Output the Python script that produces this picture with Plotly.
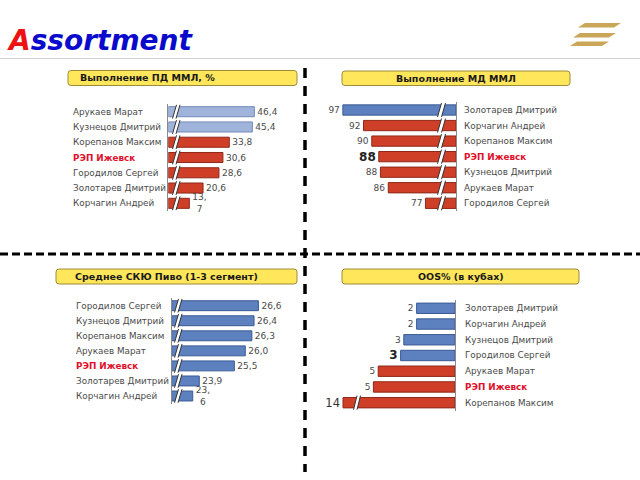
import plotly.graph_objects as go

W, H = 640, 480

# ---------------- data ----------------
p1_title = "Выполнение ПД ММЛ, %"
p1_names = ["Арукаев Марат", "Кузнецов Дмитрий", "Корепанов Максим", "РЭП Ижевск",
            "Городилов Сергей", "Золотарев Дмитрий", "Корчагин Андрей"]
p1_values = [46.4, 45.4, 33.8, 30.6, 28.6, 20.6, 13.7]

p2_title = "Выполнение МД ММЛ"
p2_names = ["Золотарев Дмитрий", "Корчагин Андрей", "Корепанов Максим", "РЭП Ижевск",
            "Кузнецов Дмитрий", "Арукаев Марат", "Городилов Сергей"]
p2_values = [97, 92, 90, 88.3, 87.9, 86, 77]

p3_title = "Среднее СКЮ Пиво (1-3 сегмент)"
p3_names = ["Городилов Сергей", "Кузнецов Дмитрий", "Корепанов Максим", "Арукаев Марат",
            "РЭП Ижевск", "Золотарев Дмитрий", "Корчагин Андрей"]
p3_values = [26.6, 26.4, 26.3, 26.0, 25.5, 23.9, 23.6]

p4_title = "OOS% (в кубах)"
p4_names = ["Золотарев Дмитрий", "Корчагин Андрей", "Кузнецов Дмитрий", "Городилов Сергей",
            "Арукаев Марат", "РЭП Ижевск", "Корепанов Максим"]
p4_values = [2.4, 2.4, 3.2, 3.4, 4.8, 5.1, 14]

REGION = "РЭП Ижевск"

# ---------------- style ----------------
RED, RED_L = "#CF3F28", "#8E2818"
BLUE, BLUE_L = "#5D80BF", "#3B5B95"
LBLUE, LBLUE_L = "#A0B4DB", "#7489B5"
FONT = "DejaVu Sans"
NAME_C = "#4A4A4A"
VAL_C = "#4A4A4A"
REG_C = "#E0102A"
NAME_SIZE = 8.8
VAL_SIZE = 9


def px(x):
    return x / W


def py(y):
    return 1 - y / H


def fmt1(v):
    return f"{v:.1f}".replace(".", ",")


fig = go.Figure()
shapes = []
annotations = []


def panel(k, names, values, base, px_per_unit, axis_px, far_px, row0, step,
          colors, lines, texts, tsizes, tcolors, label_px, brk=None, cap=None):
    n = len(values)
    rev = far_px < axis_px
    span = abs(far_px - axis_px) / px_per_unit
    xname = "x" if k == 1 else f"x{k}"
    yname = "y" if k == 1 else f"y{k}"
    xl = "xaxis" if k == 1 else f"xaxis{k}"
    yl = "yaxis" if k == 1 else f"yaxis{k}"
    disp = [min(v, cap) if cap else v for v in values]
    fig.add_trace(go.Bar(
        y=list(range(n)), x=[d - base for d in disp], base=base, orientation="h",
        xaxis=xname, yaxis=yname, width=0.66,
        marker=dict(color=colors, line=dict(color=lines, width=1)),
        text=texts, textposition="outside", constraintext="none",
        textfont=dict(family=FONT, size=tsizes, color=tcolors),
        cliponaxis=False, hoverinfo="skip", showlegend=False))
    top = row0 - step / 2
    bot = row0 + step * (n - 1) + step / 2
    if rev:
        dom = [px(far_px), px(axis_px)]
        rng = [base + span, base]
    else:
        dom = [px(axis_px), px(far_px)]
        rng = [base, base + span]
    fig.update_layout(**{
        xl: dict(domain=dom, range=rng, anchor=yname, visible=False, fixedrange=True),
        yl: dict(domain=[py(bot), py(top)], range=[n - 0.5, -0.5], anchor=xname,
                 showline=True, linecolor="#8A8A8A", linewidth=1,
                 side="right" if rev else "left", showticklabels=False,
                 showgrid=False, zeroline=False, ticks="", fixedrange=True),
    })
    for i, nm in enumerate(names):
        reg = nm == REGION
        annotations.append(dict(
            xref="paper", yref=yname, x=px(label_px), y=i, xanchor="left",
            yanchor="middle", showarrow=False,
            text=f"<b>{nm}</b>" if reg else nm,
            font=dict(family=FONT, size=NAME_SIZE, color=REG_C if reg else NAME_C)))
    if brk:
        xb, slant, gap, rows = brk
        for i in rows:
            yb, yt = i + 0.45, i - 0.45
            path = (f"M {px(xb)},{yb} L {px(xb + slant)},{yt} "
                    f"L {px(xb + slant + gap)},{yt} L {px(xb + gap)},{yb} Z")
            shapes.append(dict(type="path", xref="paper", yref=yname, path=path,
                               fillcolor="white", line=dict(width=0), layer="above"))
            for dx in (0, gap):
                shapes.append(dict(type="line", xref="paper", yref=yname,
                                   x0=px(xb + dx), y0=yb, x1=px(xb + dx + slant), y1=yt,
                                   line=dict(color="#333333", width=1), layer="above"))


# panel 1
c1 = [LBLUE if i < 2 else RED for i in range(len(p1_values))]
l1 = [LBLUE_L if i < 2 else RED_L for i in range(len(p1_values))]
t1 = [fmt1(v) for v in p1_values]
t1[-1] = t1[-1].replace(",", ",<br>")
panel(1, p1_names, p1_values, 3.12, 1.988, 168.3, 300, 111.7, 15.27,
      c1, l1, t1, VAL_SIZE, VAL_C, 71, brk=(172.5, 4, 3.5, range(len(p1_values))))

# panel 2
c2 = [BLUE if i < 1 else RED for i in range(len(p2_values))]
l2 = [BLUE_L if i < 1 else RED_L for i in range(len(p2_values))]
t2 = [f"<b>{v:.0f}</b>" if nm == REGION else f"{v:.0f}" for v, nm in zip(p2_values, p2_names)]
s2 = [12 if nm == REGION else VAL_SIZE for nm in p2_names]
tc2 = ["#222222" if nm == REGION else VAL_C for nm in p2_names]
panel(2, p2_names, p2_values, 69.6, 4.13, 456, 326, 110, 15.55,
      c2, l2, t2, s2, tc2, 462, brk=(437.5, 4, 4, range(len(p2_values))))

# panel 3
c3 = [BLUE] * len(p3_values)
l3 = [BLUE_L] * len(p3_values)
t3 = [fmt1(v) for v in p3_values]
t3[-1] = t3[-1].replace(",", ",<br>")
panel(3, p3_names, p3_values, 22.64, 21.9, 171.7, 300, 305.7, 15.05,
      c3, l3, t3, VAL_SIZE, VAL_C, 74, brk=(174.5, 4, 3.5, range(len(p3_values))))

# panel 4
c4 = [BLUE if i < 4 else RED for i in range(len(p4_values))]
l4 = [BLUE_L if i < 4 else RED_L for i in range(len(p4_values))]
t4 = [f"{v:.0f}" for v in p4_values]
t4[3] = f"<b>{p4_values[3]:.0f}</b>"
s4 = [VAL_SIZE] * len(p4_values)
s4[3] = 12
s4[-1] = 11.5
tc4 = [VAL_C] * len(p4_values)
tc4[3] = "#222222"
tc4[-1] = "#333333"
panel(4, p4_names, p4_values, 0, 16, 455, 326, 308.3, 15.73,
      c4, l4, t4, s4, tc4, 462.5, brk=(353.5, 3.5, 3.5, [len(p4_values) - 1]), cap=7.0)


# ---------------- headers ----------------
def rrect(x0, y0, x1, y1, r=3):
    rx, ry = r / W, r / H
    X0, X1, Y0, Y1 = px(x0), px(x1), py(y0), py(y1)
    return (f"M {X0 + rx},{Y0} L {X1 - rx},{Y0} Q {X1},{Y0} {X1},{Y0 - ry} "
            f"L {X1},{Y1 + ry} Q {X1},{Y1} {X1 - rx},{Y1} L {X0 + rx},{Y1} "
            f"Q {X0},{Y1} {X0},{Y1 + ry} L {X0},{Y0 - ry} Q {X0},{Y0} {X0 + rx},{Y0} Z")


headers = [
    (p1_title, 68, 70.5, 297, 85.5, 78, "left"),
    (p2_title, 342, 71, 570, 85.5, 456, "center"),
    (p3_title, 56, 269, 297, 284, 72.5, "left"),
    (p4_title, 342, 269, 579, 284, 460.5, "center"),
]
for txt, x0, y0, x1, y1, tx, anc in headers:
    shapes.append(dict(type="path", xref="paper", yref="paper", path=rrect(x0, y0, x1, y1),
                       fillcolor="#FFE65A", line=dict(color="#9C8C3A", width=1)))
    annotations.append(dict(xref="paper", yref="paper", x=px(tx), y=py((y0 + y1) / 2),
                            xanchor=anc, yanchor="middle", showarrow=False,
                            text=f"<b>{txt}</b>",
                            font=dict(family=FONT, size=9.5, color="#1A1A1A")))

# ---------------- dividers ----------------
shapes.append(dict(type="line", xref="paper", yref="paper", x0=px(305), x1=px(305),
                   y0=py(68), y1=py(472), line=dict(color="black", width=3.5, dash="10px,8px")))
shapes.append(dict(type="line", xref="paper", yref="paper", x0=0, x1=1,
                   y0=py(254), y1=py(254), line=dict(color="black", width=3, dash="8px,4px")))

# title underline
shapes.append(dict(type="line", xref="paper", yref="paper", x0=0, x1=1,
                   y0=py(58.5), y1=py(58.5), line=dict(color="#D0D0D0", width=1)))

# logo stripes
for yt, yb, xl, xr in [(23, 27.5, 578, 614), (33, 37.5, 573, 609), (41.5, 46, 570, 602)]:
    path = (f"M {px(xl)},{py(yb)} L {px(xl + 7)},{py(yt)} L {px(xr + 7)},{py(yt)} "
            f"L {px(xr)},{py(yb)} Z")
    shapes.append(dict(type="path", xref="paper", yref="paper", path=path,
                       fillcolor="#C9A658", line=dict(width=0)))

# title
annotations.append(dict(xref="paper", yref="paper", x=px(5), y=py(40), xanchor="left",
                        yanchor="middle", showarrow=False,
                        text="<b><i><span style='color:#EE1111'>A</span>ssortment</i></b>",
                        font=dict(family=FONT, size=28, color="#0A0ACC")))

fig.update_layout(width=W, height=H, margin=dict(l=0, r=0, t=0, b=0),
                  paper_bgcolor="white", plot_bgcolor="rgba(0,0,0,0)",
                  shapes=shapes, annotations=annotations, bargap=0.3,
                  font=dict(family=FONT))
fig.write_html("out.html", config={"displayModeBar": False},
               post_script="document.body.style.margin='0';document.body.style.overflow='hidden';")
